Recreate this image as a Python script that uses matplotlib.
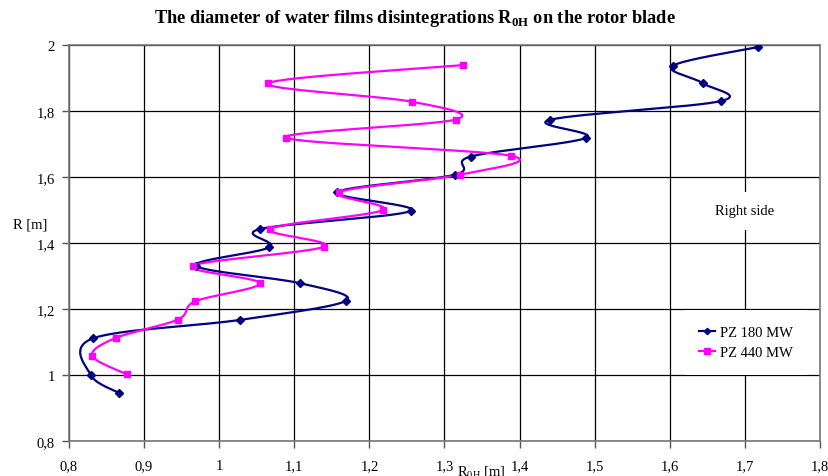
import numpy as np
import matplotlib
matplotlib.use("Agg")
import matplotlib.pyplot as plt
from matplotlib.ticker import FixedLocator, FuncFormatter

plt.rcParams['font.family'] = ['Liberation Serif', 'DejaVu Serif']

# PZ 180 MW: radius R [m] and film disintegration diameter R0H [m]
r_180 = [0.945, 1.000, 1.111, 1.167, 1.225, 1.278, 1.331, 1.387, 1.442, 1.497,
         1.554, 1.607, 1.662, 1.719, 1.773, 1.830, 1.884, 1.937, 1.994]
r0h_180 = [0.867, 0.829, 0.832, 1.028, 1.169, 1.108, 0.969, 1.067, 1.054, 1.255,
           1.157, 1.314, 1.335, 1.489, 1.440, 1.668, 1.644, 1.604, 1.718]

# PZ 440 MW
r_440 = [1.002, 1.058, 1.112, 1.168, 1.223, 1.278, 1.331, 1.389, 1.443, 1.500,
         1.554, 1.607, 1.664, 1.719, 1.774, 1.828, 1.884, 1.939]
r0h_440 = [0.877, 0.831, 0.862, 0.945, 0.968, 1.054, 0.965, 1.140, 1.068, 1.218,
           1.160, 1.321, 1.389, 1.089, 1.315, 1.257, 1.065, 1.325]

x_ticks = [0.8, 0.9, 1.0, 1.1, 1.2, 1.3, 1.4, 1.5, 1.6, 1.7, 1.8]
y_ticks = [0.8, 1.0, 1.2, 1.4, 1.6, 1.8, 2.0]


def smooth(xs, ys, sx, sy, n=30):
    """Cubic Bezier smoothing (Catmull-Rom tangents) in screen-scaled units."""
    p = np.column_stack([np.asarray(xs) * sx, np.asarray(ys) * sy])
    ext = np.vstack([p[0], p, p[-1]])
    out = []
    t = np.linspace(0, 1, n)[:, None]
    for i in range(len(p) - 1):
        p0, p1, p2, p3 = ext[i], ext[i + 1], ext[i + 2], ext[i + 3]
        c1 = p1 + (p2 - p0) / 6.0
        c2 = p2 - (p3 - p1) / 6.0
        seg = ((1 - t) ** 3) * p1 + 3 * ((1 - t) ** 2) * t * c1 \
            + 3 * (1 - t) * t ** 2 * c2 + t ** 3 * p2
        out.append(seg if i == 0 else seg[1:])
    out = np.vstack(out)
    return out[:, 0] / sx, out[:, 1] / sy


fig = plt.figure(figsize=(8.29, 4.77), dpi=100)
ax = fig.add_axes([0.0832, 0.0734, 0.9059, 0.8302])
ax.set_xlim(0.8, 1.8)
ax.set_ylim(0.8, 2.0)

ax.grid(True, color='black', linewidth=0.9, zorder=0)
ax.set_axisbelow(True)
for s in ax.spines.values():
    s.set_color('#777777')
    s.set_linewidth(1.2)

ax.xaxis.set_major_locator(FixedLocator(x_ticks))
ax.yaxis.set_major_locator(FixedLocator(y_ticks))
fmt = FuncFormatter(lambda v, _: ('%g' % round(v, 2)).replace('.', ','))
ax.xaxis.set_major_formatter(fmt)
ax.yaxis.set_major_formatter(fmt)
ax.tick_params(axis='both', direction='out', length=5, width=1, color='#555555',
               labelsize=10.5, pad=5)
ax.tick_params(axis='x', pad=8)

sx, sy = 751.0, 330.0
bx, by = smooth(r0h_180, r_180, sx, sy)
px, py = smooth(r0h_440, r_440, sx, sy)

ax.plot(bx, by, color='#000080', lw=1.6, zorder=3)
ax.plot(r0h_180, r_180, linestyle='none', marker='D', ms=3.6, color='#000080', zorder=4)
ax.plot(px, py, color='#FF00FF', lw=1.6, zorder=3)
ax.plot(r0h_440, r_440, linestyle='none', marker='s', ms=4.5, color='#FF00FF', zorder=4)

# legend handles
ax.plot([], [], color='#000080', lw=1.6, marker='D', ms=3.6, label='PZ 180 MW')
ax.plot([], [], color='#FF00FF', lw=1.6, marker='s', ms=4.5, label='PZ 440 MW')
handles, labels = ax.get_legend_handles_labels()
leg = ax.legend(handles, labels, loc='center left', bbox_to_anchor=(0.808, 0.248),
                frameon=True, fontsize=10.5, handlelength=1.1, handletextpad=0.3,
                labelspacing=0.45, borderpad=1.1, markerscale=0.9)
leg.get_frame().set_edgecolor('none')
leg.get_frame().set_facecolor('white')
leg.get_frame().set_alpha(1)
leg.set_zorder(5)

ax.text(1.7, 1.497, 'Right side', ha='center', va='center', fontsize=10.5,
        zorder=5, bbox=dict(facecolor='white', edgecolor='none', pad=9))

fig.text(0.5, 0.962,
         r'The diameter of water films disintegrations R$_{\mathregular{0H}}$ on the rotor blade',
         ha='center', va='center', fontsize=13.2, fontweight='bold')
fig.text(0.036, 0.528, 'R [m]', ha='center', va='center', fontsize=10.5)
fig.text(0.581, 0.008, r'R$_{\mathregular{0H}}$ [m]', ha='center', va='center', fontsize=10.5)

fig.savefig('out.png', dpi=100)
